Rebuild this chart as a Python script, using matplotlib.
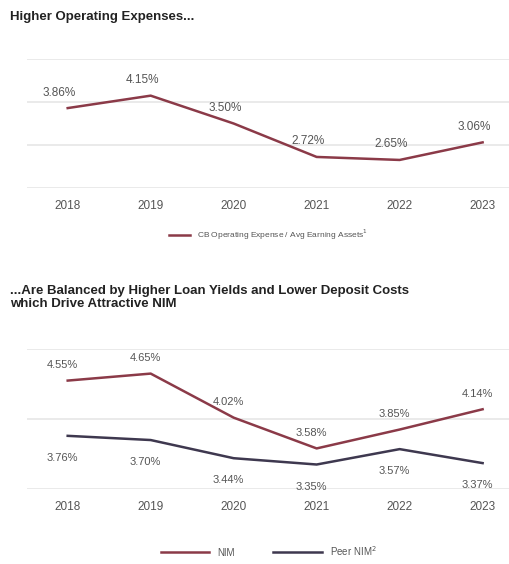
import matplotlib
matplotlib.use("Agg")
import matplotlib.pyplot as plt

years = ["2018", "2019", "2020", "2021", "2022", "2023"]
opex = [3.86, 4.15, 3.50, 2.72, 2.65, 3.06]
nim = [4.55, 4.65, 4.02, 3.58, 3.85, 4.14]
peer = [3.76, 3.70, 3.44, 3.35, 3.57, 3.37]

plt.rcParams['font.family'] = ['Liberation Sans', 'DejaVu Sans']
RED = "#8b3a48"
DARK = "#3e384f"
TXT = "#555555"

fig = plt.figure(figsize=(5.10, 5.64), dpi=100)
x = list(range(len(years)))

def style(ax, ylim, ticks):
    ax.set_xlim(-0.49, 5.33)
    ax.set_ylim(*ylim)
    ax.set_yticks(ticks)
    ax.yaxis.grid(True, color="#e6e6e6", lw=1.2)
    ax.set_axisbelow(True)
    for s in ax.spines.values():
        s.set_visible(False)
    ax.tick_params(left=False, labelleft=False, bottom=False, colors=TXT, labelsize=8.5, pad=5)
    ax.set_xticks(x)
    ax.set_xticklabels(years)

ax1 = fig.add_axes([0.053, 0.667, 0.947, 0.228])
style(ax1, (2, 5), [2, 3, 4, 5])
ax1.plot(x, opex, color=RED, lw=1.8, label="CB Operating Expense / Avg Earning Assets$^{1}$")
for xi, v in zip(x, opex):
    ax1.annotate(f"{v:.2f}%", (xi, v), xytext=(-6, 9), textcoords="offset points",
                 ha="center", fontsize=8.5, color=TXT)
ax1.legend(loc="upper center", bbox_to_anchor=(0.5, -0.25), frameon=False,
           fontsize=6, labelcolor=TXT, handlelength=2.5)

fig.text(0.02, 0.965, "Higher Operating Expenses...", fontsize=9.5, fontweight="bold", color="#222222")
fig.text(0.02, 0.455, "...Are Balanced by Higher Loan Yields and Lower Deposit Costs\nwhich Drive Attractive NIM",
         fontsize=9.5, fontweight="bold", color="#222222", linespacing=1.2)

ax2 = fig.add_axes([0.053, 0.133, 0.947, 0.248])
style(ax2, (3, 5), [3, 4, 5])
ax2.plot(x, nim, color=RED, lw=1.8, label="NIM")
ax2.plot(x, peer, color=DARK, lw=1.8, label="Peer NIM$^{2}$")
for xi, v in zip(x, nim):
    ax2.annotate(f"{v:.2f}%", (xi, v), xytext=(-4, 9), textcoords="offset points",
                 ha="center", fontsize=8, color=TXT)
for xi, v in zip(x, peer):
    ax2.annotate(f"{v:.2f}%", (xi, v), xytext=(-4, -18), textcoords="offset points",
                 ha="center", fontsize=8, color=TXT)
ax2.legend(loc="upper center", bbox_to_anchor=(0.5, -0.33), frameon=False, ncol=2,
           fontsize=7, labelcolor=TXT, handlelength=5, columnspacing=4)

fig.savefig("out.png", dpi=100, facecolor="white")
